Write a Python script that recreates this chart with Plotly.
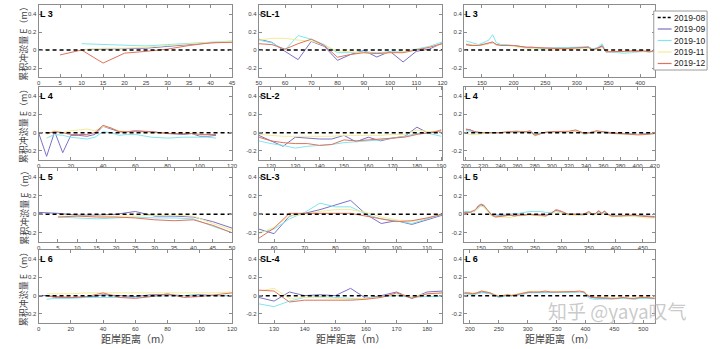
import plotly.graph_objects as go
from plotly.subplots import make_subplots

W, H = 720, 349
FONT = "Liberation Sans, Arial, Noto Sans CJK SC, sans-serif"
CJK = "Noto Sans CJK SC, Liberation Sans, sans-serif"

MONTHS = ["2019-08", "2019-09", "2019-10", "2019-11", "2019-12"]
COLORS = ["#000000", "#7B72C8", "#80E6EE", "#F2EC96", "#E0725C"]

# ---- L 3 (near shore) ----
l3a_x = [5, 10, 15, 20, 25, 30, 35, 40, 45]
l3a_09 = [None, 0.005, 0.01, 0.01, 0.02, 0.04, 0.06, 0.08, 0.09]
l3a_10 = [None, 0.07, 0.06, 0.05, 0.045, 0.06, 0.075, 0.09, 0.10]
l3a_11 = [None, 0.0, 0.02, 0.02, 0.03, 0.05, 0.07, 0.085, 0.095]
l3a_12 = [-0.055, 0.0, -0.145, -0.035, -0.015, 0.01, 0.05, 0.08, 0.085]

# ---- SL-1 ----
sl1_x = [50, 55, 60, 65, 70, 75, 80, 85, 90, 95, 100, 105, 110, 115, 120]
sl1_09 = [0.12, 0.085, -0.015, -0.107, 0.096, 0.04, -0.115, -0.05, -0.005, -0.078, -0.015, -0.133, -0.015, 0.01, 0.078]
sl1_10 = [0.11, 0.08, 0.0, 0.16, 0.12, 0.06, -0.03, -0.03, -0.02, -0.03, -0.02, -0.02, 0.01, 0.04, 0.09]
sl1_11 = [0.11, 0.13, 0.13, 0.11, 0.10, 0.05, -0.01, -0.02, -0.03, -0.04, -0.03, -0.02, 0.0, 0.03, 0.07]
sl1_12 = [0.07, 0.06, 0.01, 0.07, 0.12, 0.05, -0.08, -0.05, -0.03, -0.04, -0.03, -0.03, 0.0, 0.03, 0.07]

# ---- L 3 (offshore) ----
l3b_x = [125, 135, 145, 155, 161, 167, 173, 180, 190, 200, 210, 220, 230, 240, 250, 260, 270, 280, 290, 300,
         310, 318, 325, 333, 340, 346, 355, 365, 375, 385, 395, 405, 415, 423]
l3b_09 = [0.06, 0.05, 0.05, 0.06, 0.07, 0.08, 0.06, 0.05, 0.05, 0.05, 0.04, 0.03, 0.03, 0.02, 0.02, 0.02, 0.02, 0.02, 0.02, 0.025,
          0.03, 0.035, 0.01, 0.02, 0.05, -0.02, -0.02, -0.02, -0.02, -0.015, -0.01, -0.015, -0.02, -0.01]
l3b_10 = [0.10, 0.08, 0.06, 0.09, 0.11, 0.17, 0.08, 0.06, 0.06, 0.05, 0.03, 0.025, 0.02, 0.02, 0.015, 0.02, 0.02, 0.025, 0.03, 0.03,
          0.03, 0.035, 0.01, 0.03, 0.07, -0.02, -0.025, -0.03, -0.035, -0.03, -0.02, -0.015, -0.01, -0.02]
l3b_11 = [0.07, 0.06, 0.05, 0.06, 0.07, 0.08, 0.05, 0.05, 0.05, 0.04, 0.03, 0.02, 0.02, 0.01, 0.0, 0.0, 0.0, 0.005, 0.01, 0.01,
          0.02, 0.02, 0.0, 0.01, 0.03, -0.02, -0.02, -0.02, -0.02, -0.02, -0.02, -0.015, -0.02, -0.02]
l3b_12 = [0.06, 0.05, 0.05, 0.07, 0.08, 0.09, 0.06, 0.05, 0.05, 0.05, 0.04, 0.03, 0.03, 0.025, 0.02, 0.02, 0.015, 0.015, 0.02, 0.02,
          0.025, 0.03, 0.0, 0.02, 0.04, -0.02, -0.02, -0.015, -0.015, -0.01, -0.015, -0.01, -0.02, -0.01]

# ---- L 4 (near shore) ----
l4a_x = [0, 5, 10, 15, 20, 25, 30, 35, 40, 45, 50, 55, 60, 70, 80, 90, 95, 100, 105, 110]
l4a_09 = [0.0, -0.26, 0.01, -0.22, -0.03, -0.03, -0.04, -0.02, 0.07, 0.04, 0.01, 0.01, 0.02, 0.01, -0.01, -0.02, -0.01, -0.04, -0.04, -0.03]
l4a_10 = [None, -0.06, -0.02, -0.03, -0.05, -0.06, -0.07, -0.05, 0.01, 0.0, -0.03, -0.02, -0.02, -0.05, -0.06, -0.05, -0.05, -0.05, -0.05, -0.06]
l4a_11 = [None, -0.02, 0.02, 0.0, 0.02, 0.03, 0.04, 0.02, 0.07, 0.05, 0.02, 0.01, 0.01, 0.0, -0.01, -0.01, -0.01, -0.02, -0.02, -0.02]
l4a_12 = [None, -0.01, 0.01, 0.0, -0.02, -0.02, -0.02, 0.0, 0.08, 0.05, 0.01, 0.01, 0.015, 0.01, -0.01, -0.01, -0.01, -0.02, -0.02, -0.02]

# ---- SL-2 ----
sl2_x = [115, 120, 125, 130, 135, 140, 145, 150, 155, 160, 165, 170, 175, 180, 185, 190]
sl2_09 = [-0.03, -0.09, -0.15, -0.05, -0.06, -0.07, -0.07, -0.03, -0.10, -0.05, -0.09, -0.06, -0.04, 0.06, -0.01, 0.03]
sl2_10 = [-0.09, -0.12, -0.14, -0.17, -0.15, -0.14, -0.13, -0.11, -0.10, -0.09, -0.08, -0.06, -0.04, -0.01, -0.01, -0.04]
sl2_11 = [-0.02, -0.03, -0.04, -0.04, -0.04, -0.04, -0.04, -0.03, -0.03, -0.03, -0.03, -0.02, -0.02, 0.03, 0.01, 0.02]
sl2_12 = [-0.05, -0.09, -0.11, -0.12, -0.12, -0.14, -0.13, -0.08, -0.09, -0.08, -0.07, -0.06, -0.05, -0.02, 0.0, 0.02]

# ---- L 4 (offshore) ----
l4b_x = [200, 205, 210, 220, 230, 240, 250, 255, 260, 265, 270, 275, 280, 285, 290, 300, 310, 320, 328, 333,
         338, 345, 352, 360, 370, 380, 390, 400, 410, 420]
l4b_09 = [0.03, 0.03, 0.01, -0.01, -0.005, 0.0, 0.005, 0.01, 0.01, 0.01, 0.005, 0.015, -0.02, -0.01, 0.0, 0.01, 0.01, 0.01, 0.02, 0.01,
          -0.01, 0.0, 0.015, 0.01, 0.0, -0.01, -0.01, -0.02, -0.01, -0.01]
l4b_10 = [0.02, 0.015, 0.0, -0.01, -0.01, 0.0, 0.01, 0.015, 0.02, 0.01, 0.005, 0.01, -0.02, -0.01, 0.0, 0.005, 0.01, 0.01, 0.015, 0.005,
          -0.02, -0.005, 0.01, 0.0, -0.01, -0.015, -0.015, -0.02, -0.015, -0.01]
l4b_11 = [-0.01, -0.02, -0.02, -0.01, -0.005, 0.0, 0.005, 0.01, 0.01, 0.01, 0.005, 0.01, -0.04, -0.02, 0.0, 0.005, 0.005, 0.01, 0.02, 0.0,
          -0.015, 0.0, 0.01, 0.005, -0.01, -0.015, -0.02, -0.02, -0.02, -0.01]
l4b_12 = [0.04, 0.03, 0.01, 0.0, 0.0, 0.0, 0.01, 0.01, 0.01, 0.01, 0.01, 0.02, -0.03, -0.02, 0.0, 0.01, 0.01, 0.015, 0.03, 0.01,
          -0.01, 0.0, 0.02, 0.01, -0.01, -0.01, -0.02, -0.025, -0.02, -0.01]

# ---- L 5 (near shore) ----
l5a_x = [0, 5, 10, 15, 20, 25, 30, 35, 40, 45, 50]
l5a_09 = [0.02, 0.01, -0.01, -0.01, 0.0, 0.03, -0.02, -0.02, -0.03, -0.08, -0.15]
l5a_10 = [None, -0.03, -0.04, -0.05, -0.04, -0.03, -0.04, -0.04, -0.05, -0.13, -0.20]
l5a_11 = [None, -0.02, -0.02, -0.02, -0.02, -0.02, -0.01, -0.01, -0.02, -0.10, -0.17]
l5a_12 = [None, -0.03, -0.02, -0.03, -0.03, -0.04, -0.06, -0.07, -0.06, -0.12, -0.20]

# ---- SL-3 ----
sl3_x = [55, 60, 65, 70, 75, 80, 85, 90, 95, 100, 105, 110, 115]
sl3_09 = [-0.16, -0.21, -0.02, 0.01, 0.05, 0.10, 0.15, 0.0, -0.10, -0.07, -0.11, -0.06, -0.01]
sl3_10 = [-0.20, -0.16, -0.05, 0.02, 0.12, 0.08, 0.08, 0.0, -0.05, -0.07, -0.10, -0.05, 0.0]
sl3_11 = [-0.21, -0.14, -0.02, 0.0, 0.03, 0.05, 0.05, 0.02, -0.03, -0.06, -0.08, -0.04, 0.01]
sl3_12 = [-0.26, -0.15, 0.01, 0.01, 0.01, 0.01, 0.01, -0.02, -0.05, -0.08, -0.07, -0.04, 0.0]

# ---- L 5 (offshore) ----
l5b_x = [119, 130, 140, 145, 150, 155, 162, 170, 177, 185, 195, 204, 212, 220, 230, 240, 250, 260, 270, 280,
         289, 296, 304, 312, 320, 330, 340, 350, 357, 363, 368, 374, 379, 385, 392, 400, 410, 420, 430, 440,
         448, 456, 464, 472]
l5b_09 = [0.02, 0.02, 0.04, 0.08, 0.10, 0.09, 0.04, -0.01, -0.02, -0.02, -0.015, -0.01, -0.01, -0.005, -0.01, 0.0, -0.005, -0.01, -0.01, 0.01,
          0.04, 0.03, 0.01, 0.0, 0.0, 0.0, 0.0, 0.02, 0.0, 0.01, 0.03, 0.01, 0.03, 0.0, -0.015, -0.02, -0.02, -0.015, -0.01, -0.015,
          -0.02, -0.02, -0.02, -0.025]
l5b_10 = [0.03, 0.03, 0.04, 0.07, 0.09, 0.08, 0.04, 0.0, -0.01, 0.0, 0.0, 0.0, 0.01, 0.01, 0.02, 0.03, 0.03, 0.03, 0.02, 0.02,
          0.03, 0.02, 0.01, 0.0, 0.0, -0.01, -0.01, 0.01, -0.01, 0.0, 0.02, 0.0, 0.02, 0.0, -0.02, -0.02, -0.02, -0.015, -0.02, -0.02,
          -0.02, -0.025, -0.03, -0.035]
l5b_11 = [0.02, 0.02, 0.04, 0.07, 0.09, 0.08, 0.03, -0.02, -0.03, -0.03, -0.03, -0.04, -0.02, -0.02, -0.01, -0.01, -0.01, -0.02, -0.02, 0.0,
          0.03, 0.02, 0.01, -0.01, -0.01, -0.01, -0.01, 0.02, -0.01, 0.0, 0.02, 0.0, 0.02, -0.01, -0.03, -0.02, -0.03, -0.02, -0.02, -0.03,
          -0.03, -0.04, -0.04, -0.04]
l5b_12 = [0.02, 0.02, 0.05, 0.09, 0.11, 0.10, 0.05, -0.01, -0.03, -0.025, -0.02, -0.01, -0.02, -0.01, -0.01, 0.0, -0.01, -0.01, -0.02, 0.01,
          0.05, 0.04, 0.02, 0.0, 0.0, 0.0, 0.0, 0.03, 0.0, 0.01, 0.04, 0.01, 0.035, 0.0, -0.02, -0.02, -0.02, -0.015, -0.01, -0.02,
          -0.02, -0.025, -0.025, -0.03]

# ---- L 6 (near shore) ----
l6a_x = [0, 5, 10, 20, 30, 40, 50, 60, 70, 80, 90, 100, 110, 120]
l6a_09 = [0.0, 0.0, -0.01, -0.02, -0.02, 0.01, 0.0, -0.01, 0.01, 0.01, 0.0, 0.01, 0.0, 0.0]
l6a_10 = [None, -0.04, -0.03, -0.03, -0.02, -0.02, -0.02, -0.02, -0.01, 0.0, 0.0, 0.0, 0.0, 0.0]
l6a_11 = [None, 0.02, 0.02, 0.02, 0.03, 0.03, 0.03, 0.03, 0.03, 0.03, 0.03, 0.03, 0.03, 0.04]
l6a_12 = [None, 0.0, -0.02, -0.02, -0.01, 0.03, -0.02, -0.03, -0.01, 0.02, -0.02, -0.01, 0.01, 0.03]

# ---- SL-4 ----
sl4_x = [125, 130, 135, 140, 145, 150, 155, 160, 165, 170, 175, 180, 185]
sl4_09 = [-0.02, -0.06, 0.04, 0.0, 0.01, 0.0, 0.08, -0.03, 0.0, 0.04, -0.03, 0.04, 0.05]
sl4_10 = [-0.09, -0.12, -0.06, -0.02, -0.01, -0.02, -0.03, -0.03, -0.01, 0.0, -0.02, -0.01, -0.01]
sl4_11 = [0.05, 0.08, -0.03, -0.02, -0.02, -0.03, -0.04, -0.03, -0.02, 0.02, -0.01, 0.02, 0.02]
sl4_12 = [0.06, 0.05, -0.07, -0.05, -0.05, -0.05, -0.05, -0.04, -0.02, 0.03, -0.03, 0.02, 0.03]

# ---- L 6 (offshore) ----
l6b_x = [190, 198, 205, 212, 220, 228, 235, 242, 250, 258, 265, 272, 280, 288, 295, 302, 310, 320, 330, 340,
         350, 360, 370, 380, 390, 398, 402, 408, 415, 425, 435, 445, 455, 465, 475, 485, 495, 505, 513, 520]
l6b_09 = [0.025, 0.02, 0.015, 0.025, 0.04, 0.03, 0.025, 0.005, -0.015, -0.005, 0.005, 0.0, 0.005, 0.015, 0.025, 0.035, 0.035, 0.035, 0.04, 0.035,
          0.035, 0.035, 0.04, 0.04, 0.045, 0.035, 0.005, -0.015, -0.025, -0.025, -0.03, -0.035, -0.03, -0.025, -0.03, -0.035, -0.025, -0.025, -0.03, -0.03]
l6b_10 = [0.02, 0.02, 0.01, 0.02, 0.03, 0.03, 0.02, 0.0, -0.02, -0.01, 0.0, -0.005, 0.0, 0.01, 0.02, 0.03, 0.03, 0.03, 0.035, 0.03,
          0.03, 0.03, 0.035, 0.035, 0.04, 0.03, -0.01, -0.03, -0.04, -0.04, -0.04, -0.04, -0.035, -0.03, -0.035, -0.04, -0.03, -0.03, -0.03, -0.035]
l6b_11 = [0.04, 0.035, 0.03, 0.035, 0.05, 0.045, 0.035, 0.015, 0.0, 0.005, 0.015, 0.01, 0.015, 0.025, 0.035, 0.045, 0.045, 0.045, 0.05, 0.045,
          0.045, 0.045, 0.05, 0.05, 0.05, 0.045, 0.015, -0.005, -0.015, -0.015, -0.02, -0.025, -0.025, -0.015, -0.025, -0.025, -0.015, -0.015, -0.02, -0.025]
l6b_12 = [0.03, 0.03, 0.02, 0.03, 0.05, 0.04, 0.03, 0.01, -0.01, 0.0, 0.01, 0.0, 0.01, 0.02, 0.03, 0.04, 0.04, 0.04, 0.05, 0.04,
          0.04, 0.04, 0.045, 0.045, 0.05, 0.04, 0.01, -0.01, -0.02, -0.02, -0.025, -0.03, -0.03, -0.02, -0.03, -0.03, -0.02, -0.02, -0.025, -0.03]

Y_TICKS = [-0.2, 0, 0.2, 0.4]
Y_TICK_TEXT = ["-0.2", "0", "0.2", "0.4"]
Y_TITLE = "累积冲淤量 E（m）"
X_TITLE = "距岸距离（m）"

# (row, col, label, x, [09, 10, 11, 12], x range, tick step)
panels = [
    (1, 1, "L 3", l3a_x, [l3a_09, l3a_10, l3a_11, l3a_12], [0, 45], 5),
    (1, 2, "SL-1", sl1_x, [sl1_09, sl1_10, sl1_11, sl1_12], [50, 120], 10),
    (1, 3, "L 3", l3b_x, [l3b_09, l3b_10, l3b_11, l3b_12], [122, 423], 50),
    (2, 1, "L 4", l4a_x, [l4a_09, l4a_10, l4a_11, l4a_12], [0, 120], 20),
    (2, 2, "SL-2", sl2_x, [sl2_09, sl2_10, sl2_11, sl2_12], [115, 190.5], 10),
    (2, 3, "L 4", l4b_x, [l4b_09, l4b_10, l4b_11, l4b_12], [198, 420], 20),
    (3, 1, "L 5", l5a_x, [l5a_09, l5a_10, l5a_11, l5a_12], [0, 50], 5),
    (3, 2, "SL-3", sl3_x, [sl3_09, sl3_10, sl3_11, sl3_12], [55, 115], 10),
    (3, 3, "L 5", l5b_x, [l5b_09, l5b_10, l5b_11, l5b_12], [119, 472], 50),
    (4, 1, "L 6", l6a_x, [l6a_09, l6a_10, l6a_11, l6a_12], [0, 120], 20),
    (4, 2, "SL-4", sl4_x, [sl4_09, sl4_10, sl4_11, sl4_12], [125, 185], 10),
    (4, 3, "L 6", l6b_x, [l6b_09, l6b_10, l6b_11, l6b_12], [190, 520], 50),
]

# pixel layout of the grid
COL_PX = [(36, 232), (259, 445), (467, 660)]
ROW_PX = [(5, 77), (87, 160), (168, 242), (250, 323)]
REF_DASH = "4px,3px"


def px(x):
    return x / W


def py(y):
    return 1 - y / H


fig = make_subplots(rows=4, cols=3)

for row, col, label, xs, series, xr, step in panels:
    for k, ys in enumerate(series):
        fig.add_trace(go.Scatter(x=xs, y=ys, mode="lines", name=MONTHS[k + 1], showlegend=False,
                                 connectgaps=False,
                                 line=dict(color=COLORS[k + 1], width=1)), row=row, col=col)
    c0, c1 = COL_PX[col - 1]
    r0, r1 = ROW_PX[row - 1]
    axis_common = dict(showgrid=False, zeroline=False, showline=True, linecolor="#8c8c8c", linewidth=1,
                       mirror="ticks", ticks="inside", ticklen=3, tickcolor="#8c8c8c",
                       tickfont=dict(family=FONT, size=6, color="#404040"))
    fig.update_xaxes(domain=[px(c0), px(c1)], range=xr, dtick=step, tick0=0, row=row, col=col, **axis_common)
    fig.update_yaxes(domain=[py(r1), py(r0)], range=[-0.3, 0.5], tickvals=Y_TICKS, ticktext=Y_TICK_TEXT,
                     row=row, col=col, **axis_common)

# 2019-08 is the reference survey: zero change along the whole profile, drawn last so it sits on top
for row, col, label, xs, series, xr, step in panels:
    fig.add_trace(go.Scatter(x=xr, y=[0, 0], mode="lines", name=MONTHS[0], showlegend=False,
                             line=dict(color=COLORS[0], width=1.5, dash=REF_DASH)), row=row, col=col)

annotations = []
# panel labels
for i, (row, col, label, *_rest) in enumerate(panels):
    ax = "" if i == 0 else str(i + 1)
    annotations.append(dict(text=f"<b>{label}</b>", xref=f"x{ax} domain", yref=f"y{ax}", x=0.0, y=0.4,
                            xanchor="left", yanchor="middle", showarrow=False, xshift=-1,
                            font=dict(family=FONT, size=9, color="#000")))

# y titles for each row
for r0, r1 in ROW_PX:
    annotations.append(dict(text=Y_TITLE, xref="paper", yref="paper", x=px(21), y=py((r0 + r1) / 2),
                            textangle=-90, showarrow=False, xanchor="center", yanchor="middle",
                            font=dict(family=CJK, size=9, color="#404040")))

# x titles under each column
for c0, c1 in COL_PX:
    annotations.append(dict(text=X_TITLE, xref="paper", yref="paper", x=px((c0 + c1) / 2), y=py(338),
                            showarrow=False, xanchor="center", yanchor="middle",
                            font=dict(family=CJK, size=10, color="#404040")))

# legend box
shapes = [dict(type="rect", xref="paper", yref="paper", x0=px(659), x1=px(713), y0=py(70), y1=py(11),
               line=dict(color="#9a9a9a", width=1), fillcolor="white")]
for k, m in enumerate(MONTHS):
    yc = 17.5 + 11.5 * k
    shapes.append(dict(type="line", xref="paper", yref="paper", x0=px(663), x1=px(677), y0=py(yc), y1=py(yc),
                       line=dict(color=COLORS[k], width=1.3 if k == 0 else 1.2,
                                 dash="3px,2px" if k == 0 else "solid")))
    annotations.append(dict(text=m, xref="paper", yref="paper", x=px(677), y=py(yc), xanchor="left",
                            yanchor="middle", showarrow=False, font=dict(family=FONT, size=8.5, color="#222")))

# site watermark
annotations.append(dict(text="知乎 @yaya叹气", xref="paper", yref="paper", x=px(622), y=py(310),
                        xanchor="center", yanchor="middle", showarrow=False,
                        font=dict(family=CJK, size=19, color="rgba(185,185,185,0.75)")))

fig.update_layout(width=W, height=H, margin=dict(l=0, r=0, t=0, b=0), paper_bgcolor="white",
                  plot_bgcolor="white", showlegend=False, annotations=annotations, shapes=shapes)

fig.write_html("out.html")
